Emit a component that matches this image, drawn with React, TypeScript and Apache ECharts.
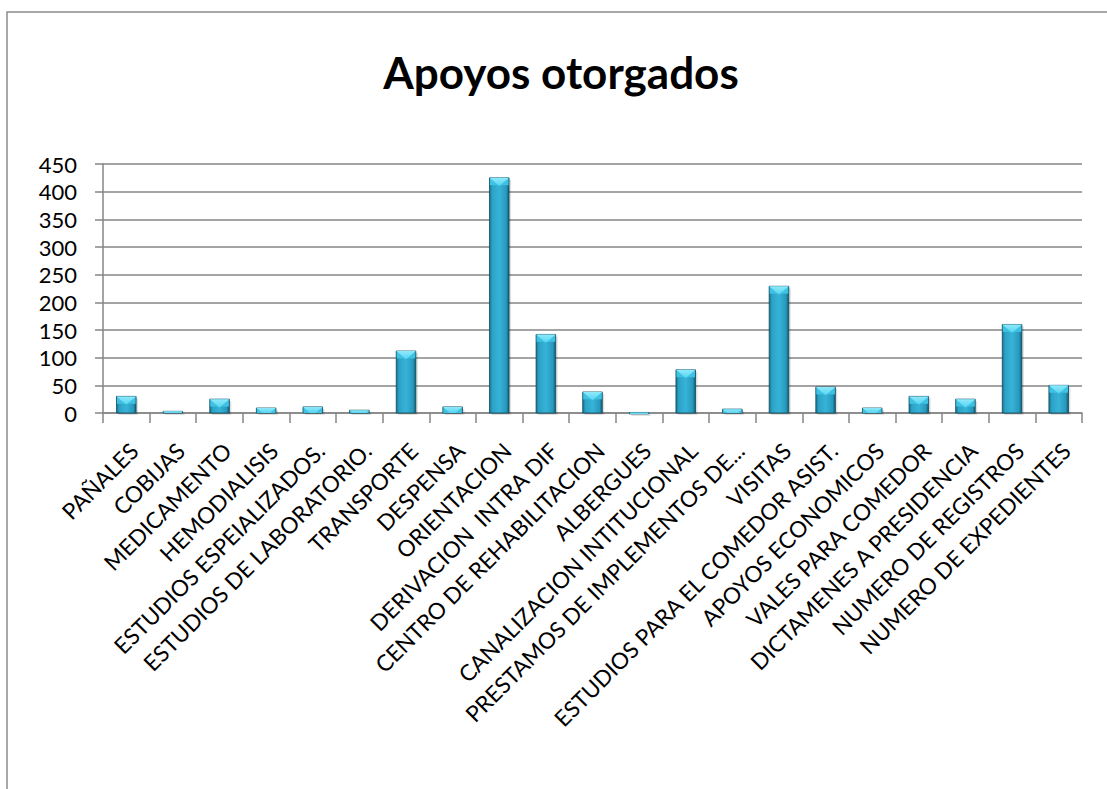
import React, { useEffect, useRef } from "react";
import * as echarts from "echarts";

const TITLE = "Apoyos otorgados";

const categories: string[] = [
  "PAÑALES",
  "COBIJAS",
  "MEDICAMENTO",
  "HEMODIALISIS",
  "ESTUDIOS ESPEIALIZADOS.",
  "ESTUDIOS DE LABORATORIO.",
  "TRANSPORTE",
  "DESPENSA",
  "ORIENTACION",
  "DERIVACION  INTRA DIF",
  "CENTRO DE REHABILITACION",
  "ALBERGUES",
  "CANALIZACION INTITUCIONAL",
  "PRESTAMOS DE IMPLEMENTOS DE...",
  "VISITAS",
  "ESTUDIOS PARA EL COMEDOR ASIST.",
  "APOYOS ECONOMICOS",
  "VALES PARA COMEDOR",
  "DICTAMENES A PRESIDENCIA",
  "NUMERO DE REGISTROS",
  "NUMERO DE EXPEDIENTES",
];

const values: number[] = [
  30, 3, 25, 9, 11, 5, 112, 11, 425, 142, 38, 1, 78, 7, 229, 47, 9, 30, 25, 160, 50,
];

const yTicks = { min: 0, max: 450, interval: 50 };

const FONT = 'Lato, "Open Sans", sans-serif';
const GRID_COLOR = "#868686";

function renderBar(params: any, api: any) {
  const idx = api.value(0);
  const val = api.value(1);
  const top = api.coord([idx, val]);
  const base = api.coord([idx, 0]);
  const band = api.size([1, 0])[0];
  const w = band * 0.42;
  const cx = top[0];
  const x = cx - w / 2;
  const y = top[1];
  const h = Math.max(base[1] - top[1], 1.5);
  const d = w * 0.42;
  const frac = Math.min(1, h / d);
  const bh = Math.min(d, h);
  const bevelPts =
    frac >= 1
      ? [
          [x, y],
          [x + w, y],
          [cx, y + d],
        ]
      : [
          [x, y],
          [x + w, y],
          [cx + (w / 2) * (1 - frac), y + bh],
          [cx - (w / 2) * (1 - frac), y + bh],
        ];
  return {
    type: "group",
    children: [
      {
        type: "rect",
        shape: { x: x + 2, y: y + 2, width: w, height: h },
        style: { fill: "rgba(0,0,0,0.12)" },
      },
      {
        type: "rect",
        shape: { x, y, width: w, height: h },
        style: {
          fill: new echarts.graphic.LinearGradient(0, 0, 1, 0, [
            { offset: 0, color: "#17708c" },
            { offset: 0.14, color: "#2ba2c6" },
            { offset: 0.5, color: "#37b3d8" },
            { offset: 0.86, color: "#2799bd" },
            { offset: 1, color: "#0f5870" },
          ]),
          stroke: "#0f4c5f",
          lineWidth: 0.8,
        },
      },
      {
        type: "rect",
        shape: { x: x + 0.5, y: y + 0.5, width: w - 1, height: Math.min(d * 0.9, h) - 0.5 },
        style: { fill: "#3ec2e3" },
      },
      {
        type: "polygon",
        shape: { points: bevelPts },
        style: {
          fill: new echarts.graphic.LinearGradient(0, 0, 0, 1, [
            { offset: 0, color: "#8fe9fb" },
            { offset: 1, color: "#56d4f0" },
          ]),
        },
      },
    ],
  };
}

export default function App() {
  const ref = useRef<HTMLDivElement>(null);

  useEffect(() => {
    document.body.style.margin = "0";
    if (!ref.current) return;
    const chart = echarts.init(ref.current, undefined, { renderer: "svg" });
    chart.setOption({
      animation: false,
      backgroundColor: "#ffffff",
      graphic: [
        {
          type: "rect",
          shape: { x: 7, y: 12, width: 1300, height: 1000 },
          style: { fill: "none", stroke: "#8c8c8c", lineWidth: 1.5 },
          silent: true,
          z: -10,
        },
        {
          type: "text",
          x: 561,
          y: 72,
          style: {
            text: TITLE,
            font: `bold 44px ${FONT}`,
            fill: "#000000",
            textAlign: "center",
            textVerticalAlign: "middle",
          },
        },
      ],
      grid: {
        left: 103,
        right: 25,
        top: 164,
        bottom: 376,
        outerBoundsMode: "none",
        containLabel: false,
      },
      xAxis: {
        type: "category",
        data: categories,
        axisLine: { show: true, lineStyle: { color: GRID_COLOR, width: 1.5 } },
        axisTick: {
          show: true,
          alignWithLabel: false,
          length: 10,
          lineStyle: { color: GRID_COLOR, width: 1.5 },
        },
        axisLabel: {
          rotate: 45,
          interval: 0,
          margin: 26,
          verticalAlign: "top",
          color: "#000000",
          fontFamily: FONT,
          fontSize: 22.5,
          lineHeight: 22,
        },
        splitLine: { show: false },
      },
      yAxis: {
        type: "value",
        min: yTicks.min,
        max: yTicks.max,
        interval: yTicks.interval,
        axisLine: { show: true, lineStyle: { color: GRID_COLOR, width: 1.5 } },
        axisTick: { show: true, length: 8, lineStyle: { color: GRID_COLOR, width: 1.5 } },
        axisLabel: {
          margin: 26,
          color: "#000000",
          fontFamily: FONT,
          fontSize: 22,
          lineHeight: 22,
        },
        splitLine: { show: true, lineStyle: { color: GRID_COLOR, width: 1.5 } },
      },
      series: [
        {
          type: "custom",
          renderItem: renderBar,
          encode: { x: 0, y: 1 },
          data: values.map((v, i) => [i, v]),
          clip: false,
        },
      ],
    });
    return () => chart.dispose();
  }, []);

  return <div ref={ref} style={{ width: 1107, height: 789 }} />;
}
